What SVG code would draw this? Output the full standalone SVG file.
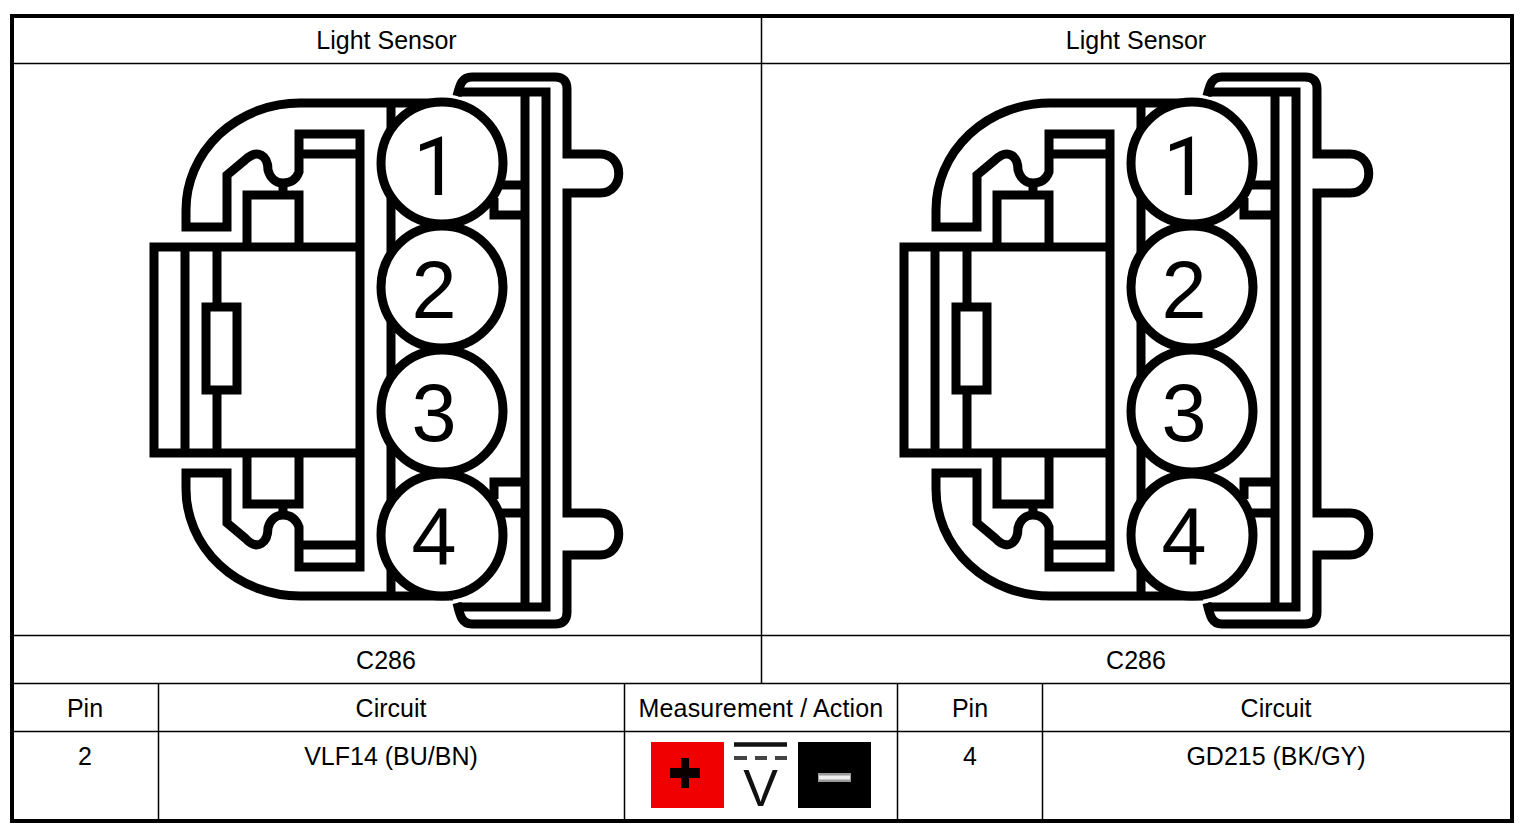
<svg xmlns="http://www.w3.org/2000/svg" xmlns:xlink="http://www.w3.org/1999/xlink" width="1526" height="830" viewBox="0 0 1526 830">
<style>
.t{font-family:"Liberation Sans",Arial,sans-serif;font-size:25px;fill:#000;text-anchor:middle}
.g{fill:none;stroke:#000;stroke-width:9;stroke-linejoin:miter}
.c{fill:#fff;stroke:#000;stroke-width:9}
.n{font-family:"Liberation Sans",Arial,sans-serif;font-size:81px;fill:#000;text-anchor:middle}
.r{font-family:Roboto,sans-serif}
.l{stroke:#000;stroke-width:1.5;fill:none}
</style>
<defs>
<g id="connector">
<path class="g" d="M453 103H300A114 107 0 0 0 186 210V227H227V175L245 160C258 148 268 156 268 170C270 178 276 183 283 183C290 183 296 180 299 172V134H360V567H299V527C296 519 290 515 283 515C276 515 270 520 268 528C268 542 258 552 245 538L227 523V473H186V489A114 107 0 0 0 300 596H453"/>
<path class="g" d="M299 154H360M299 545H360M283 183V195M283 504V515"/>
<path class="g" d="M247 247V195H299V247M247 453V504H299V453"/>
<path class="g" d="M360 247H154V453H360M185 247V453M217 247V307M217 390V453"/>
<path class="g" d="M206 307H237V390H206Z"/>
<path class="g" d="M391 103V596"/>
<path class="g" d="M458 92H546V607H458M525 92V607"/>
<path class="g" d="M457 96C460 84 462 77 472 77H555Q567 77 567 89V154H600C625 154 625 193 600 193H567V513H600C625 513 625 555 600 555H567V612Q567 624 555 624H472C462 624 460 616 457 603"/>
<path class="g" d="M495 185H525M525 215H494V198M525 482H494V499M495 513H525"/>
<circle class="c" cx="442" cy="163" r="61"/>
<circle class="c" cx="442" cy="287" r="61"/>
<circle class="c" cx="442" cy="411" r="61"/>
<circle class="c" cx="442" cy="535" r="61"/>
<text class="n r" x="436" y="195">1</text>
<text class="n" x="434" y="318">2</text>
<text class="n" x="434" y="441">3</text>
<text class="n" x="434" y="565">4</text>
</g>
</defs>
<rect width="1526" height="830" fill="#fff"/>
<g id="table">
<rect x="12" y="16" width="1500" height="805" fill="none" stroke="#000" stroke-width="4"/>
<path class="l" d="M12 63.500H1512M12 635.500H1512M12 683.500H1512M12 731.500H1512M761.500 16V683M158.500 683V821M624.500 683V821M897.500 683V821M1042.500 683V821"/>
</g>
<g id="connector-left"><use xlink:href="#connector" href="#connector"/></g>
<g id="connector-right"><use xlink:href="#connector" href="#connector" x="750"/></g>
<g id="labels">
<text class="t" x="386.500" y="49">Light Sensor</text>
<text class="t" x="1136" y="49">Light Sensor</text>
<text class="t" x="386" y="669">C286</text>
<text class="t" x="1136" y="669">C286</text>
<text class="t" x="85" y="717">Pin</text>
<text class="t" x="391" y="717">Circuit</text>
<text class="t" x="761" y="717" letter-spacing="0.150">Measurement / Action</text>
<text class="t" x="970" y="717">Pin</text>
<text class="t" x="1276" y="717">Circuit</text>
<text class="t" x="85" y="765">2</text>
<text class="t" x="391" y="765">VLF14 (BU/BN)</text>
<text class="t" x="970" y="765">4</text>
<text class="t" x="1276" y="765">GD215 (BK/GY)</text>
</g>
<g id="meter-icon">
<rect x="651" y="742" width="73" height="66" fill="#f00000"/>
<path d="M681 758H689V768H700V778H689V788H681V778H670V768H681Z" fill="#0a0000"/>
<path d="M734 744.500H787" stroke="#111" stroke-width="4.500"/>
<path d="M734 758H747M755 758H767M775 758H787" stroke="#444" stroke-width="4"/>
<text x="760.500" y="806" font-family="Liberation Sans, Arial, sans-serif" font-size="52" text-anchor="middle" fill="#111">V</text>
<rect x="798" y="742" width="73" height="66" fill="#000"/>
<rect x="818" y="773" width="33" height="9" fill="#999"/>
<rect x="819" y="775.500" width="31" height="4" fill="#eee"/>
</g>
</svg>
